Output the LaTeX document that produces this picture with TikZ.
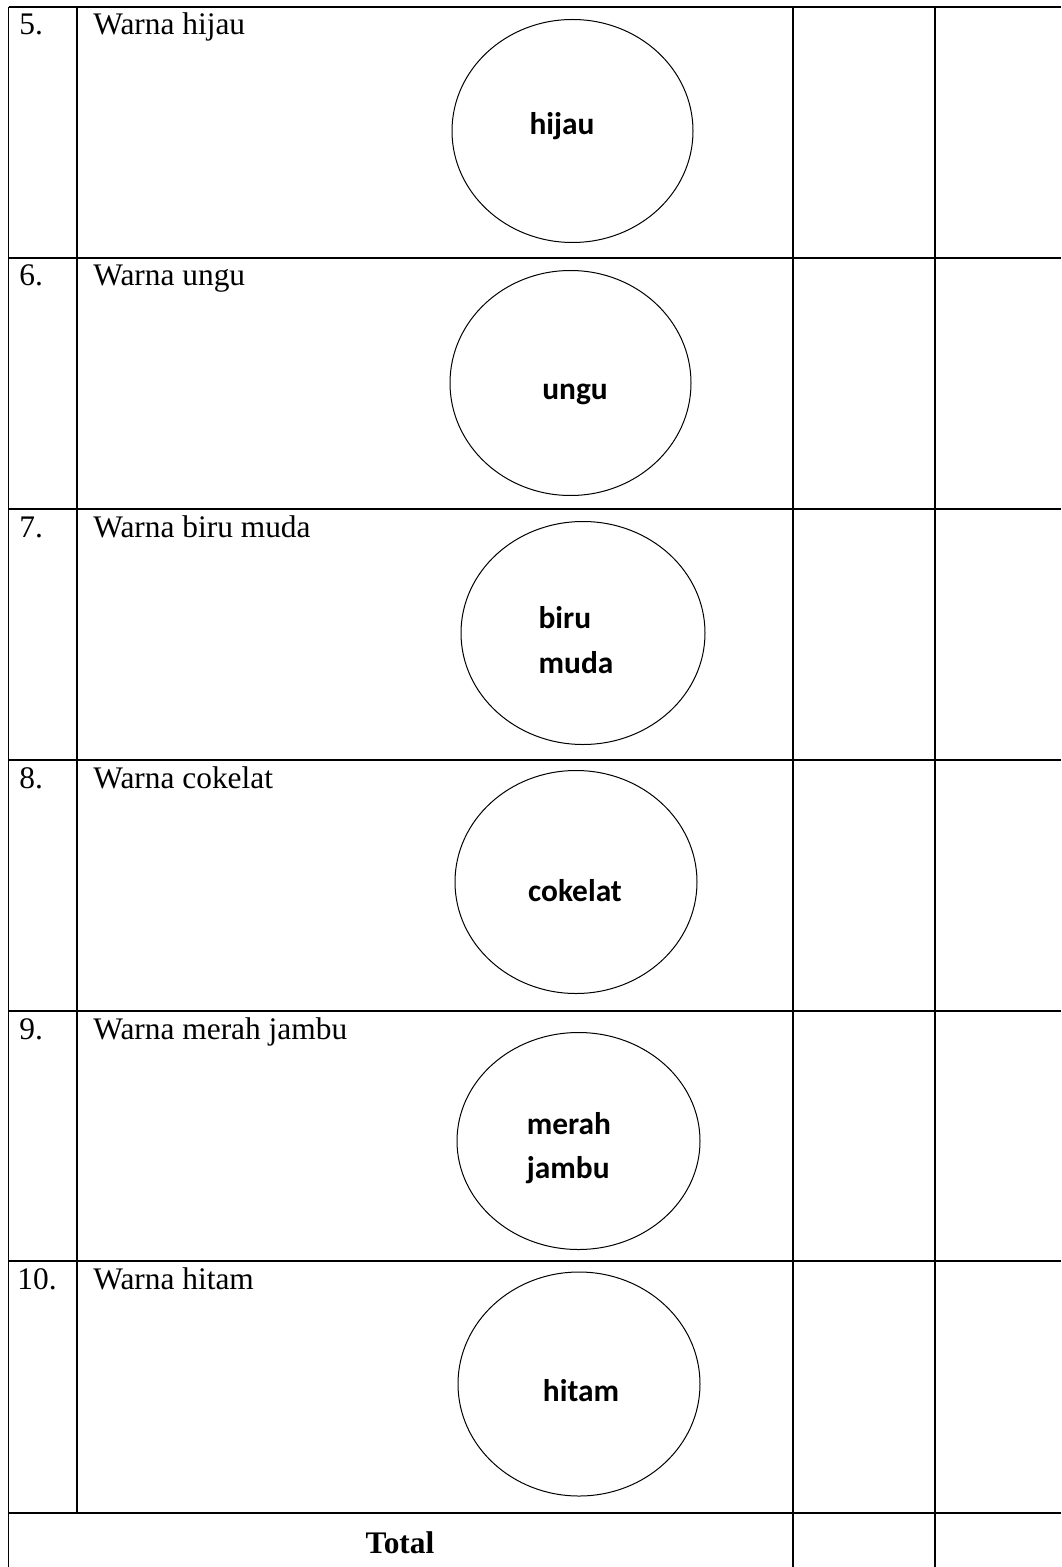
\documentclass[tikz,border=0pt]{standalone}
\usepackage{fontspec}
\setmainfont{Liberation Serif}
\newfontfamily\lblfont{Carlito}
\usetikzlibrary{shapes.geometric}
\tikzset{
  grid/.style={line width=0.9pt},
  ring/.style={draw, ellipse, line width=0.5pt, inner sep=0pt},
  txt/.style={anchor=base west, inner sep=0pt, font=\fontsize{15.7}{18}\selectfont},
  lbl/.style={inner sep=0pt, align=left, font=\lblfont\bfseries\fontsize{15.7}{22.3}\selectfont}
}
\begin{document}
\begin{tikzpicture}[x=0.5pt,y=-0.5pt]
    \useasboundingbox (0,0) rectangle (1061,1567);
    % table lines
    \draw [grid] (8.5,7) -- (1061,7);
    \draw [grid] (8.5,258) -- (1061,258);
    \draw [grid] (8.5,509) -- (1061,509);
    \draw [grid] (8.5,760) -- (1061,760);
    \draw [grid] (8.5,1011) -- (1061,1011);
    \draw [grid] (8.5,1261) -- (1061,1261);
    \draw [grid] (8.5,1513) -- (1061,1513);
    \draw [grid] (8.5,7) -- (8.5,1567);
    \draw [grid] (77,7) -- (77,1513);
    \draw [grid] (793,7) -- (793,1567);
    \draw [grid] (935,7) -- (935,1567);
    % numbers and names
    \node [txt] (n5) at (19,35) {5.};
    \node [txt] (w5) at (93,35) {Warna hijau};
    \node [txt] (n6) at (19,286) {6.};
    \node [txt] (w6) at (93,286) {Warna ungu};
    \node [txt] (n7) at (19,537) {7.};
    \node [txt] (w7) at (93,537) {Warna biru muda};
    \node [txt] (n8) at (19,788) {8.};
    \node [txt] (w8) at (93,788) {Warna cokelat};
    \node [txt] (n9) at (19,1039) {9.};
    \node [txt] (w9) at (93,1039) {Warna merah jambu};
    \node [txt] (n10) at (17,1289) {10.};
    \node [txt] (w10) at (93,1289) {Warna hitam};
    \node [font=\bfseries\fontsize{15.7}{18}\selectfont, anchor=base, inner sep=0pt] (tot) at (400,1553) {Total};
    % ellipses
    \node [ring, minimum width=120.5pt, minimum height=111.5pt] (e5) at (572.5,131) {};
    \node [ring, minimum width=120.5pt, minimum height=112.5pt] (e6) at (570.5,383) {};
    \node [ring, minimum width=122pt, minimum height=111.5pt] (e7) at (583,633) {};
    \node [ring, minimum width=121pt, minimum height=111.5pt] (e8) at (576,882) {};
    \node [ring, minimum width=121.5pt, minimum height=108.5pt] (e9) at (578.5,1141) {};
    \node [ring, minimum width=121pt, minimum height=112pt] (e10) at (579,1384) {};
    % labels
    \node [lbl, anchor=base] (l5) at (562,135) {hijau};
    \node [lbl, anchor=base] (l6) at (575,400) {ungu};
    \node [lbl] (l7) at (576,640) {biru\\muda};
    \node [lbl, anchor=base] (l8) at (575,901) {cokelat};
    \node [lbl] (l9) at (569,1148) {merah\\jambu};
    \node [lbl, anchor=base] (l10) at (581,1401) {hitam};
\end{tikzpicture}
\end{document}
